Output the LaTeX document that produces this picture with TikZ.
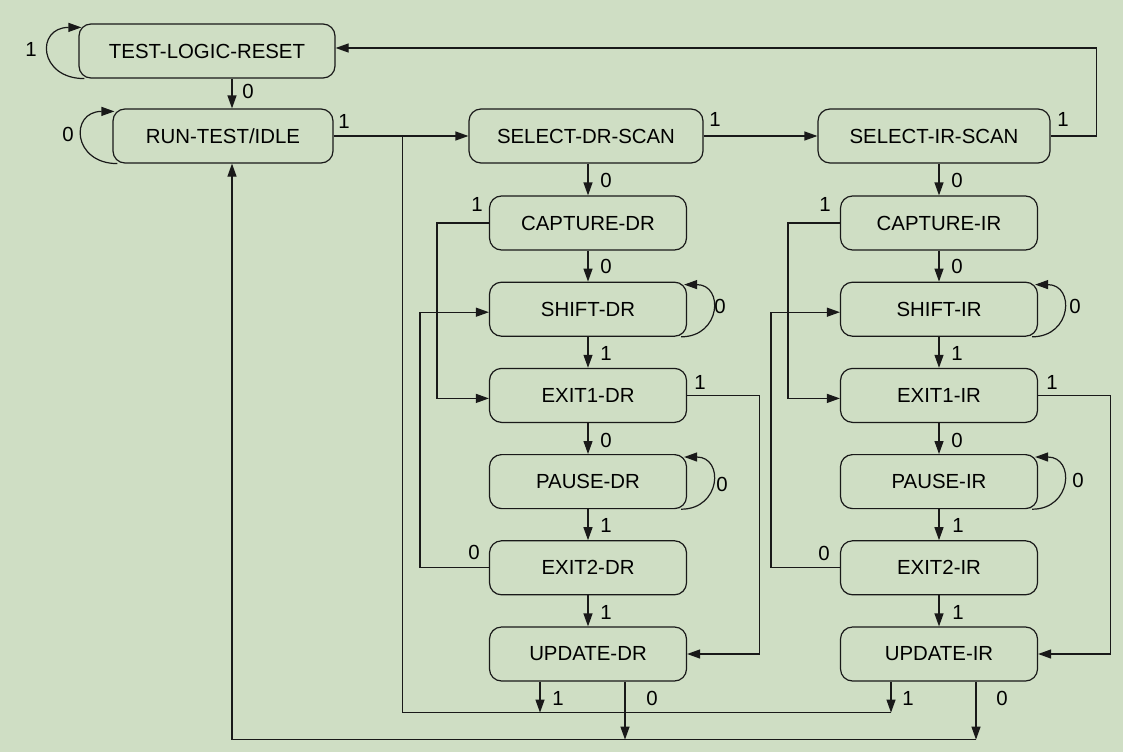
\documentclass[tikz,border=0pt]{standalone}
\usepackage{fontspec}
\setmainfont{Liberation Sans}
\usepackage{tikz}
\usetikzlibrary{arrows.meta}
\usetikzlibrary{positioning}
\definecolor{bg}{RGB}{207,222,196}
\definecolor{ink}{RGB}{25,25,25}
\tikzstyle{every node}+=[inner sep=0pt]
\tikzstyle{state} = [rectangle, draw=ink, line width=1.2pt, text centered, rounded corners=12pt, minimum height=54pt, minimum width=197pt]
\tikzstyle{line} = [draw=ink, line width=1.2pt, -{Triangle[length=13pt,width=9pt]}]
\tikzstyle{wire} = [draw=ink, line width=1.2pt]
\tikzstyle{value} = [text=black]

\begin{document}
\begin{tikzpicture}[x=1pt, y=1pt, node distance=86.2pt, font=\fontsize{20.4}{24}\selectfont]
            \fill [bg] (0,0) rectangle (1123,-752);
            \useasboundingbox (0,0) rectangle (1123,-752);
            % Place nodes
            \node [state, minimum width=256pt] (tlr) at (207,-51) {TEST-LOGIC-RESET};
            \node [state, minimum width=220pt, below of=tlr, node distance=85pt, xshift=16pt] (rti) {RUN-TEST/IDLE};
            \node [state, minimum width=234pt, right of=rti, node distance=363pt] (sdr) {SELECT-DR-SCAN};
            \node [state, minimum width=232pt, right of=sdr, node distance=348pt] (sir) {SELECT-IR-SCAN};
            \node [state, below of=sdr, node distance=87pt, xshift=2pt] (cdr) {CAPTURE-DR};
            \node [state, below of=cdr] (shdr) {SHIFT-DR};
            \node [state, below of=shdr] (e1dr) {EXIT1-DR};
            \node [state, below of=e1dr] (pdr) {PAUSE-DR};
            \node [state, below of=pdr] (e2dr) {EXIT2-DR};
            \node [state, below of=e2dr] (udr) {UPDATE-DR};
            \node [state, below of=sir, node distance=87pt, xshift=5pt] (cir) {CAPTURE-IR};
            \node [state, below of=cir] (shir) {SHIFT-IR};
            \node [state, below of=shir] (e1ir) {EXIT1-IR};
            \node [state, below of=e1ir] (pir) {PAUSE-IR};
            \node [state, below of=pir] (e2ir) {EXIT2-IR};
            \node [state, below of=e2ir] (uir) {UPDATE-IR};
            \coordinate (rtix) at ([xshift=9pt]rti.center);
            % Place values
            \node [value] (v0) at (31,-49) {1};
            \node [value] (v1) at (248,-91) {0};
            \node [value] (v2) at (68,-134) {0};
            \node [value] (v3) at (344,-121) {1};
            \node [value] (v4) at (715,-119) {1};
            \node [value] (v5) at (1063,-119) {1};
            \node [value] (v6) at (606,-180) {0};
            \node [value] (v7) at (957,-180) {0};
            \node [value] (v8) at (477,-204) {1};
            \node [value] (v9) at (825,-204) {1};
            \node [value] (v10) at (606,-266) {0};
            \node [value] (v11) at (957,-266) {0};
            \node [value] (v12) at (720,-306) {0};
            \node [value] (v13) at (1075,-306) {0};
            \node [value] (v14) at (606,-353) {1};
            \node [value] (v15) at (957,-353) {1};
            \node [value] (v16) at (700,-382) {1};
            \node [value] (v17) at (1052,-382) {1};
            \node [value] (v18) at (606,-440) {0};
            \node [value] (v19) at (957,-440) {0};
            \node [value] (v20) at (722,-484) {0};
            \node [value] (v21) at (1078,-480) {0};
            \node [value] (v22) at (606,-525) {1};
            \node [value] (v23) at (958,-525) {1};
            \node [value] (v24) at (474,-552) {0};
            \node [value] (v25) at (824,-553) {0};
            \node [value] (v26) at (606,-612) {1};
            \node [value] (v27) at (958,-612) {1};
            \node [value] (v28) at (558,-698) {1};
            \node [value] (v29) at (652,-698) {0};
            \node [value] (v30) at (908,-698) {1};
            \node [value] (v31) at (1002,-698) {0};
            % Draw edges
            \path [line] ([xshift=6pt]tlr.south west) .. controls +(-46,0) and +(-46,0) .. ([xshift=3pt,yshift=-4pt]tlr.north west);
            \path [line] (tlr.south -| rtix) -- (rti.north -| rtix);
            \path [line] ([xshift=5pt]rti.south west) .. controls +(-45,0) and +(-45,0) .. ([xshift=2pt,yshift=-3pt]rti.north west);
            \path [line] (rti) -- (sdr);
            \path [line] (sdr) -- (sir);
            \path [line] (sir.east) -- ++(46,0) |- ([yshift=3pt]tlr.east);
            % DR column
            \path [line] (sdr.south -| cdr) -- (cdr);
            \path [line] (cdr.west) -- ++(-52,0) |- ([yshift=-3pt]e1dr.west);
            \path [line] (cdr) -- (shdr);
            \path [line] ([xshift=-6pt]shdr.south east) .. controls +(40,0) and +(40,0) .. ([xshift=-3pt,yshift=-3pt]shdr.north east);
            \path [line] (shdr) -- (e1dr);
            \path [line] (e1dr.east) -- ++(72,0) |- (udr.east);
            \path [line] (e1dr) -- (pdr);
            \path [line] ([xshift=-6pt]pdr.south east) .. controls +(40,0) and +(40,0) .. ([xshift=-3pt,yshift=-3pt]pdr.north east);
            \path [line] (pdr) -- (e2dr);
            \path [line] (e2dr.west) -- ++(-69,0) |- ([yshift=-3pt]shdr.west);
            \path [line] (e2dr) -- (udr);
            % IR column
            \path [line] (sir.south -| cir) -- (cir);
            \path [line] (cir.west) -- ++(-52,0) |- ([yshift=-3pt]e1ir.west);
            \path [line] (cir) -- (shir);
            \path [line] ([xshift=-6pt]shir.south east) .. controls +(40,0) and +(40,0) .. ([xshift=-3pt,yshift=-3pt]shir.north east);
            \path [line] (shir) -- (e1ir);
            \path [line] (e1ir.east) -- ++(72,0) |- (uir.east);
            \path [line] (e1ir) -- (pir);
            \path [line] ([xshift=-6pt]pir.south east) .. controls +(40,0) and +(40,0) .. ([xshift=-3pt,yshift=-3pt]pir.north east);
            \path [line] (pir) -- (e2ir);
            \path [line] (e2ir.west) -- ++(-69,0) |- ([yshift=-3pt]shir.west);
            \path [line] (e2ir) -- (uir);
            % Back to select and idle
            \path [wire] (rti.east) ++(69,0) |- ([xshift=-48pt,yshift=-31pt]uir.south);
            \path [line] ([xshift=-48pt]udr.south) -- ++(0,-31);
            \path [line] ([xshift=-48pt]uir.south) -- ++(0,-31);
            \path [line] ([xshift=37pt]udr.south) -- ++(0,-58);
            \path [line] ([xshift=37pt]uir.south) -- ++(0,-58);
            \path [line] ([xshift=37pt,yshift=-58pt]uir.south) -| (rti.south -| rtix);
          \end{tikzpicture}
\end{document}
